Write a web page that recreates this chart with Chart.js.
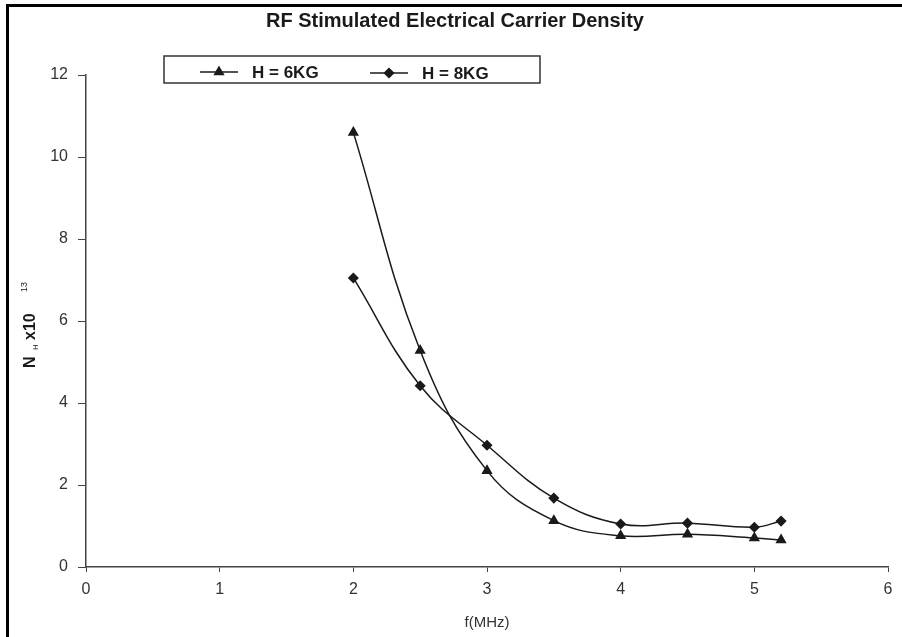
<!DOCTYPE html>
<html>
<head>
<meta charset="utf-8">
<script src="https://cdn.jsdelivr.net/npm/chart.js@4"></script>
<style>
  html, body { margin: 0; padding: 0; background: #fff; }
  #wrap { width: 902px; height: 637px; position: relative; }
</style>
</head>
<body>
<div id="wrap"><canvas id="chart" width="902" height="637"></canvas></div>
<script>
// frequency values (MHz)
const freqs = [2, 2.5, 3, 3.5, 4, 4.5, 5, 5.2];
// carrier density N_H x10^13
const h6 = [10.6, 5.28, 2.35, 1.13, 0.76, 0.8, 0.71, 0.66];
const h8 = [7.05, 4.42, 2.97, 1.68, 1.05, 1.07, 0.97, 1.12];
const xTicks = [0, 1, 2, 3, 4, 5, 6];
const yTicks = [0, 2, 4, 6, 8, 10, 12];

const ink = "#1a1a1a";
const fam = "Liberation Sans, Arial, sans-serif";
const tickFont = { family: fam, size: 16 };

function toPoints(ys) {
    return freqs.map((f, i) => ({ x: f, y: ys[i] }));
}

// frame, y-axis title with sub/superscript, boxed legend
const decor = {
    id: "decor",
    afterDraw(chart) {
        const c = chart.ctx;
        c.save();
        // picture frame (left and top edges)
        c.strokeStyle = "#000";
        c.lineWidth = 3;
        c.beginPath();
        c.moveTo(7.5, 637);
        c.lineTo(7.5, 5.5);
        c.lineTo(902, 5.5);
        c.stroke();

        // y title, N_H x10^13 rotated
        c.translate(31, 368);
        c.rotate(-Math.PI / 2);
        c.fillStyle = ink;
        c.textBaseline = "middle";
        c.textAlign = "left";
        c.font = "bold 16px " + fam;
        c.fillText("N", 0, 0);
        c.font = "8px " + fam;
        c.fillText("H", 18, 5);
        c.font = "bold 16px " + fam;
        c.fillText("x10", 28, 0);
        c.font = "9px " + fam;
        c.fillText("13", 76, -6);
        c.restore();

        // legend box
        c.save();
        c.strokeStyle = "#333";
        c.lineWidth = 1.5;
        c.strokeRect(164, 56, 376, 27);
        c.font = "bold 17px " + fam;
        c.fillStyle = ink;
        c.textBaseline = "middle";
        const items = [
            { ds: chart.data.datasets[0], x0: 200, y: 72, tx: 252 },
            { ds: chart.data.datasets[1], x0: 370, y: 73, tx: 422 }
        ];
        items.forEach(it => {
            c.strokeStyle = ink;
            c.lineWidth = 1.5;
            c.beginPath();
            c.moveTo(it.x0, it.y);
            c.lineTo(it.x0 + 38, it.y);
            c.stroke();
            Chart.helpers.drawPoint(c, {
                pointStyle: it.ds.pointStyle,
                radius: it.ds.pointRadius,
                borderWidth: 1
            }, it.x0 + 19, it.y);
            c.fillText(it.ds.label, it.tx, it.y + 1);
        });
        c.restore();
    }
};

new Chart(document.getElementById("chart"), {
    type: "scatter",
    data: {
        datasets: [
            {
                label: "H = 6KG",
                data: toPoints(h6),
                showLine: true,
                tension: 0.4,
                borderColor: ink,
                borderWidth: 1.5,
                pointStyle: "triangle",
                pointRadius: 5,
                pointBackgroundColor: ink,
                pointBorderColor: ink
            },
            {
                label: "H = 8KG",
                data: toPoints(h8),
                showLine: true,
                tension: 0.4,
                borderColor: ink,
                borderWidth: 1.5,
                pointStyle: "rectRot",
                pointRadius: 4.5,
                pointBackgroundColor: ink,
                pointBorderColor: ink
            }
        ]
    },
    options: {
        responsive: false,
        animation: false,
        layout: { padding: { left: 0, right: 14, top: 75, bottom: 0 } },
        plugins: {
            legend: { display: false },
            tooltip: { enabled: false },
            title: { display: false }
        },
        scales: {
            x: {
                type: "linear",
                min: 0,
                max: 6,
                afterBuildTicks: s => { s.ticks = xTicks.map(v => ({ value: v })); },
                afterFit: s => { s.height = 70; },
                border: { color: "#444", width: 1.5 },
                grid: { drawOnChartArea: false, drawTicks: true, tickLength: 5, color: "#444" },
                ticks: { color: "#333", font: tickFont, padding: 8 },
                title: {
                    display: true,
                    text: "f(MHz)",
                    color: "#333",
                    font: { family: fam, size: 15 },
                    padding: { top: 0, bottom: 5 }
                }
            },
            y: {
                min: 0,
                max: 12,
                afterBuildTicks: s => { s.ticks = yTicks.map(v => ({ value: v })); },
                afterFit: s => { s.width = 86; },
                border: { color: "#444", width: 1.5 },
                grid: { drawOnChartArea: false, drawTicks: true, tickLength: 8, color: "#444" },
                ticks: { color: "#333", font: tickFont, padding: 10 }
            }
        }
    },
    plugins: [decor]
});
</script>
<div style="position:absolute;left:0;top:9px;width:902px;padding-left:8px;box-sizing:border-box;text-align:center;font:bold 20px 'Liberation Sans',Arial,sans-serif;color:#1a1a1a;">RF Stimulated Electrical Carrier Density</div>
</body>
</html>
